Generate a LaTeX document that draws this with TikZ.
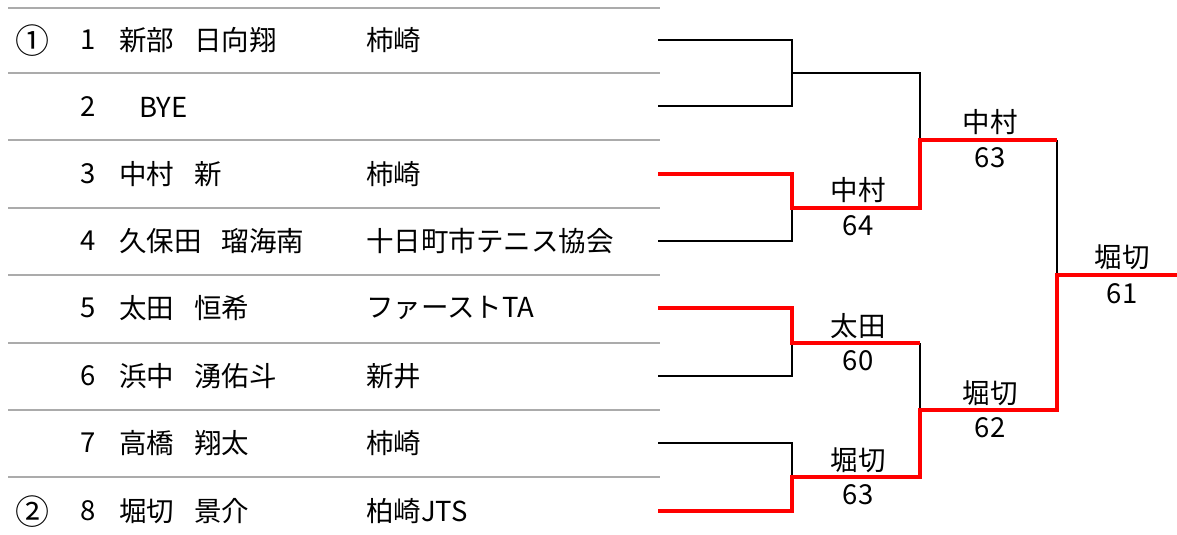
\documentclass[tikz,border=0pt]{standalone}
\usepackage{fontspec}
\setmainfont{Noto Sans CJK JP}
\newcommand{\gapw}{\hspace{20pt}}
\begin{document}
\begin{tikzpicture}[x=1pt,y=-1pt,
  txt/.style={inner sep=0pt,font=\fontsize{27.5}{30}\selectfont},
  seed/.style={inner sep=0pt,font=\fontsize{34}{36}\selectfont},
  grid/.style={draw=black!33,line width=1.5pt},
  lose/.style={draw=black,line width=2pt},
  win/.style={draw=red,line width=4.8pt}]
\useasboundingbox (0,0) rectangle (1177,535);
% gray separators
\foreach \y in {8,73,140,208,275,343,410,477}
  \draw[grid] (8,\y) -- (660,\y);
% seeds
\node[seed] (seedA) at (32,41) {①};
\node[seed] (seedB) at (32,512) {②};
% rows
\foreach \i/\y/\nm/\cl in {1/40/新部\gapw 日向翔/柿崎,3/174/中村\gapw 新/柿崎,4/241/久保田\gapw 瑠海南/十日町市テニス協会,5/308/太田\gapw 恒希/ファーストTA,6/376/浜中\gapw 湧佑斗/新井,7/443/高橋\gapw 翔太/柿崎,8/511/堀切\gapw 景介/柏崎JTS}{
  \node[txt] (n\i) at (88,\y) {\i};
  \node[txt,anchor=west] (nm\i) at (119,\y) {\nm};
  \node[txt,anchor=west] (cl\i) at (366,\y) {\cl};
}
\node[txt] (n2) at (88,107) {2};
\node[txt,anchor=west] (nm2) at (139,107) {BYE};
% bracket coordinates
\coordinate (p1) at (658,40);
\coordinate (p2) at (658,106);
\coordinate (p3) at (658,174);
\coordinate (p4) at (658,241);
\coordinate (p5) at (658,308);
\coordinate (p6) at (658,376);
\coordinate (p7) at (658,443);
\coordinate (p8) at (658,511);
\coordinate (m1) at (792,73);
\coordinate (m2) at (792,208);
\coordinate (m3) at (792,343);
\coordinate (m4) at (792,477);
\coordinate (m3e) at (920,343);
\coordinate (s1) at (920,140);
\coordinate (s2) at (920,410);
\coordinate (s1e) at (1057,140);
\coordinate (f) at (1057,275);
\coordinate (fe) at (1177,275);
% losing lines
\draw[lose] (p1) -| (m1);
\draw[lose] (p2) -| (m1);
\draw[lose] (m1) -| (s1);
\draw[lose] (p4) -| (m2);
\draw[lose] (p6) -| (m3);
\draw[lose] (p7) -| (m4);
\draw[lose] (m3e) -- (s2);
\draw[lose] (s1e) -- (f);
% winning lines
\draw[win] (p3) -| (m2) -| (s1) -- (s1e);
\draw[win] (p5) -| (m3) -- (m3e);
\draw[win] (p8) -| (m4) -| (s2) -| (f) -- (fe);
% results
\node[txt] (w1) at (858,190) {中村};
\node[txt] (r1) at (858,226) {64};
\node[txt] (w2) at (858,326) {太田};
\node[txt] (r2) at (858,361) {60};
\node[txt] (w3) at (858,460) {堀切};
\node[txt] (r3) at (858,495) {63};
\node[txt] (w4) at (990,122) {中村};
\node[txt] (r4) at (990,158) {63};
\node[txt] (w5) at (990,393) {堀切};
\node[txt] (r5) at (990,428) {62};
\node[txt] (w6) at (1122,257) {堀切};
\node[txt] (r6) at (1122,294) {61};
\end{tikzpicture}
\end{document}
